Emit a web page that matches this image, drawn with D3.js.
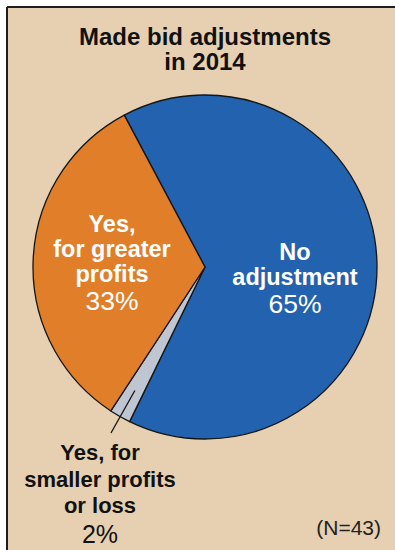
<!DOCTYPE html>
<html>
<head>
<meta charset="utf-8">
<script src="https://cdn.jsdelivr.net/npm/d3@7"></script>
<style>
  html, body { margin: 0; padding: 0; background: #fff; }
  svg { display: block; }
  text { font-family: "Liberation Sans", Arial, sans-serif; }
</style>
</head>
<body>
<script>
// Survey answers: did the firm adjust its bids in 2014?
const categories = ["No adjustment", "Yes, for smaller profits or loss", "Yes, for greater profits"];
const shares = [65, 2, 33];
const colors = ["#2262ae", "#bfc6d1", "#e07e2a"];
const titleLines = ["Made bid adjustments", "in 2014"];
const sampleNote = "(N=43)";

const W = 395, H = 550;
const svg = d3.select("body").append("svg").attr("width", W).attr("height", H);

// panel background with a dark rule on the top and left edges
svg.append("rect").attr("x", 7).attr("y", 7).attr("width", W - 7).attr("height", H - 7).attr("fill", "#e7d0b1");
svg.append("line").attr("x1", 7).attr("y1", 7).attr("x2", W).attr("y2", 7).attr("stroke", "#1e1e1e").attr("stroke-width", 2);
svg.append("line").attr("x1", 7).attr("y1", 7).attr("x2", 7).attr("y2", H).attr("stroke", "#1e1e1e").attr("stroke-width", 2);

// title
svg.append("g").selectAll("text").data(titleLines).join("text")
  .attr("x", 205).attr("y", (d, i) => 45 + i * 25)
  .attr("text-anchor", "middle").attr("font-size", 24).attr("font-weight", "bold").attr("fill", "#111")
  .text(d => d);

// pie
const cx = 205, cy = 267, r = 172;
const start = -28 * Math.PI / 180;
const pie = d3.pie().sort(null).startAngle(start).endAngle(start + 2 * Math.PI);
const arcs = pie(shares);
const arc = d3.arc().innerRadius(0).outerRadius(r);
const g = svg.append("g").attr("transform", `translate(${cx},${cy})`);
g.selectAll("path").data(arcs).join("path")
  .attr("d", arc)
  .attr("fill", (d, i) => colors[i])
  .attr("stroke", "#151515").attr("stroke-width", 1.3).attr("stroke-linejoin", "round");

// labels
function label(lines, pct, x, y, fill, lh, size) {
  const t = svg.append("g");
  lines.forEach((s, i) => {
    t.append("text").attr("x", x).attr("y", y + i * lh)
      .attr("text-anchor", "middle").attr("font-size", size).attr("font-weight", "bold").attr("fill", fill).text(s);
  });
  t.append("text").attr("x", x).attr("y", y + lines.length * lh + 3)
    .attr("text-anchor", "middle").attr("font-size", size + 3).attr("font-weight", 300).attr("fill", fill)
    .text(pct + "%");
}
label(["No", "adjustment"], shares[0], 295, 260, "#fff", 25, 23.5);
label(["Yes,", "for greater", "profits"], shares[2], 112, 232, "#fff", 25, 23.5);
label(["Yes, for", "smaller profits", "or loss"], shares[1], 100, 460, "#111", 26.5, 22);

// leader line for the small slice
const mid = arcs[1];
const a = (mid.startAngle + mid.endAngle) / 2;
const p0 = [cx + Math.sin(a) * (r - 30), cy - Math.cos(a) * (r - 30)];
svg.append("line").attr("x1", p0[0]).attr("y1", p0[1]).attr("x2", 111).attr("y2", 433)
  .attr("stroke", "#151515").attr("stroke-width", 1.3);

svg.append("text").attr("x", 381).attr("y", 535).attr("text-anchor", "end")
  .attr("font-size", 21).attr("fill", "#222").text(sampleNote);
</script>
</body>
</html>
